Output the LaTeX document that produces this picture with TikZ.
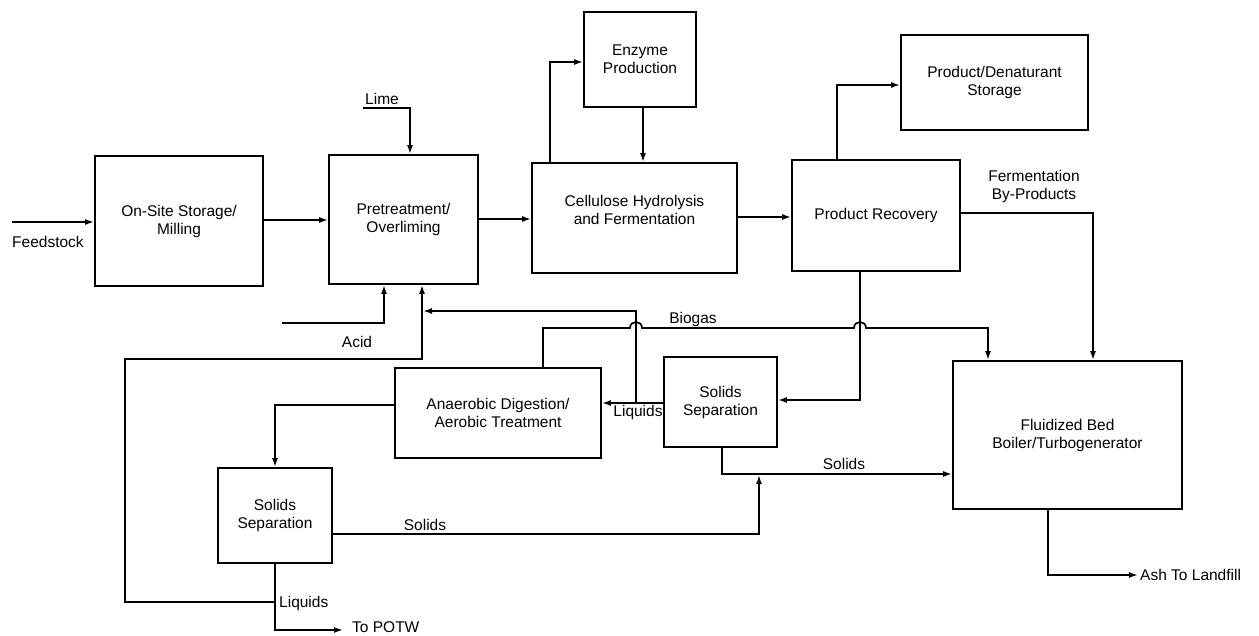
\documentclass[tikz,border=0pt]{standalone}
\usepackage{fontspec}
\setmainfont{Liberation Sans}
\usetikzlibrary{arrows.meta}
\begin{document}
\begin{tikzpicture}[x=1pt,y=-1pt,
  every node/.style={font=\fontsize{15.5}{18}\selectfont},
  box/.style={draw, line width=1.8pt, rectangle, inner sep=0pt, align=center},
  lbl/.style={inner sep=0pt, align=center},
  arr/.style={line width=1.7pt, -{Latex[length=9pt,width=6pt]}}]
\useasboundingbox (0,0) rectangle (1259,636);
% boxes
\node[box, minimum width=168, minimum height=130] (onsite) at (179,221) {On-Site Storage/\\Milling};
\node[box, minimum width=149, minimum height=129] (pre) at (403.5,219.5) {Pretreatment/\\Overliming};
\node[box, minimum width=112, minimum height=95] (enz) at (640,59.5) {Enzyme\\Production};
\node[box, minimum width=205, minimum height=110] (cell) at (634.5,218) {};
\node[lbl] (celltxt) at (634.5,210) {Cellulose Hydrolysis\\and Fermentation};
\node[box, minimum width=168, minimum height=111] (pr) at (876,215.5) {Product Recovery};
\node[box, minimum width=187, minimum height=95] (pds) at (994.5,82.5) {Product/Denaturant\\Storage};
\node[box, minimum width=206, minimum height=90] (ana) at (498,413) {Anaerobic Digestion/\\Aerobic Treatment};
\node[box, minimum width=113, minimum height=90] (ssm) at (720.5,402) {Solids\\Separation};
\node[box, minimum width=114, minimum height=95] (ssl) at (275,515.5) {Solids\\Separation};
\node[box, minimum width=229, minimum height=148] (fbb) at (1067.5,435) {Fluidized Bed\\Boiler/Turbogenerator};
% free ends
\coordinate (feed) at (12,222);
\coordinate (lime) at (363,108);
\coordinate (acid) at (282,323);
\coordinate (liqj) at (636,403);
\coordinate (lliqj) at (275,602);
\coordinate (potw) at (343,630);
\coordinate (ash) at (1138,575);
% connectors
\draw[arr] (feed) -- (feed -| onsite.west);
\draw[arr] (onsite.east |- 0,220) -- (pre.west |- 0,220);
\draw[arr] (lime) -| (410,0 |- pre.north);
\draw[arr] (pre.east |- 0,219) -- (cell.west |- 0,219);
\draw[arr] (550,0 |- cell.north) |- (enz.west |- 0,62);
\draw[arr] (643,0 |- enz.south) -- (643,0 |- cell.north);
\draw[arr] (cell.east |- 0,217) -- (pr.west |- 0,217);
\draw[arr] (837,0 |- pr.north) |- (pds.west |- 0,85);
\draw[arr] (pr.east |- 0,213) -| (1093,0 |- fbb.north);
\draw[arr] (860,0 |- pr.south) |- (ssm.east |- 0,400);
% biogas with hops
\draw[arr] (543,0 |- ana.north) -- (543,328) -- (630,328)
   .. controls (630,320) and (642,320) .. (642,328) -- (854,328)
   .. controls (854,320) and (866,320) .. (866,328) -- (988,328) -- (988,0 |- fbb.north);
% liquids
\draw[arr] (ssm.west |- 0,403) -- (ana.east |- 0,403);
\draw[arr] (liqj) -- (636,311) -- (423,311);
\draw[arr] (lliqj) -- (125,602) -- (125,359) -- (422,359) -- (422,0 |- pre.south);
\draw[arr] (acid) -| (384,0 |- pre.south);
\draw[arr] (ana.west |- 0,405) -| (ssl.north);
\draw[arr] (ssl.south) |- (potw);
% solids
\draw[arr] (722,0 |- ssm.south) |- (fbb.west |- 0,474);
\draw[arr] (ssl.east |- 0,534) -| (759,475);
% ash
\draw[arr] (1048,0 |- fbb.south) |- (ash);
% labels
\node[lbl] (tfeed) at (48,242) {Feedstock};
\node[lbl] (tlime) at (382,99) {Lime};
\node[lbl] (tacid) at (357,342) {Acid};
\node[lbl] (tbio) at (693,319) {Biogas};
\node[lbl] (tliq1) at (638,412) {Liquids};
\node[lbl, anchor=west] (tliq2) at (279,603) {Liquids};
\node[lbl, anchor=west] (tpotw) at (352,627) {To POTW};
\node[lbl] (tsol1) at (844,464) {Solids};
\node[lbl] (tsol2) at (425,525) {Solids};
\node[lbl] (tferm) at (1034,186) {Fermentation\\By-Products};
\node[lbl, anchor=west] (tash) at (1140,575) {Ash To Landfill};
\end{tikzpicture}
\end{document}
